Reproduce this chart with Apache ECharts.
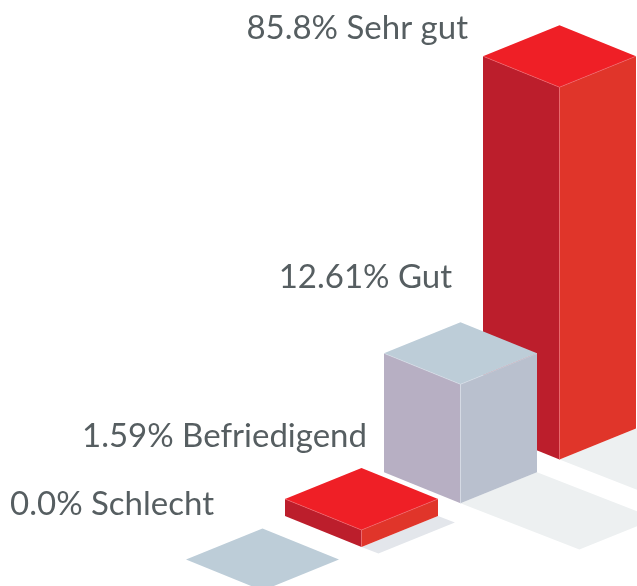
<!DOCTYPE html>
<html>
<head>
<meta charset="utf-8">
<style>
  html, body { margin: 0; padding: 0; background: #fff; }
  #chart { width: 637px; height: 586px; }
</style>
<script src="https://cdn.jsdelivr.net/npm/echarts@6/dist/echarts.min.js"></script>
</head>
<body>
<div id="chart"></div>
<script>
// data, back bar first so the nearer bars paint over it
var categories = ['Sehr gut', 'Gut', 'Befriedigend', 'Schlecht'];
var shareLabels = ['85.8', '12.61', '1.59', '0.0'];
// height of each bar as the graphic draws it (small bars are exaggerated in the original)
var drawnHeights = [85.8, 27.4, 3.9, 0];

// look of the blocks
var red = { top: '#ef1f26', left: '#bc1e2c', right: '#e0352a', seam: '#ee6a70' };
var grey = { top: '#bdcdd8', left: '#b7afc3', right: '#b9c0ce', seam: '#d8dde7' };
var palettes = [red, grey, red, grey];
var floorColors = ['#edf0f1', '#edf0f1', '#e3e6eb', '#edf0f1'];
var labelAnchors = [[468, 28], [452, 277], [367, 436], [214, 504]];

// isometric footprint, px
var halfW = 76.5;
var halfH = 31;
var rowDrop = 43.7;
var shadowSlope = 0.39;

function renderBlock(params, api) {
  var i = api.value(0);
  var base = api.coord([i, 0]);
  var top = api.coord([i, api.value(1)]);
  var h = base[1] - top[1];
  var drop = i * rowDrop;
  var cx = base[0];
  var by = base[1] + drop;
  var ty = top[1] + drop;
  var p = palettes[i];
  var kids = [];

  function poly(points, color) {
    kids.push({ type: 'polygon', shape: { points: points }, style: { fill: color } });
  }

  if (h > 0) {
    poly([
      [cx, by + halfH],
      [cx + halfW, by],
      [cx + halfW + h, by + h * shadowSlope],
      [cx + h, by + halfH + h * shadowSlope]
    ], floorColors[i]);
    poly([[cx - halfW, ty], [cx, ty + halfH], [cx, by + halfH], [cx - halfW, by]], p.left);
    poly([[cx, ty + halfH], [cx + halfW, ty], [cx + halfW, by], [cx, by + halfH]], p.right);
  }
  poly([[cx - halfW, ty], [cx, ty - halfH], [cx + halfW, ty], [cx, ty + halfH]], p.top);
  if (h > 0) {
    kids.push({
      type: 'polyline',
      shape: { points: [[cx - halfW, ty], [cx, ty + halfH], [cx + halfW, ty]] },
      style: { stroke: p.seam, lineWidth: 0.6, fill: null }
    });
    kids.push({
      type: 'line',
      shape: { x1: cx, y1: ty + halfH, x2: cx, y2: by + halfH },
      style: { stroke: p.seam, lineWidth: 0.8 }
    });
  }
  return { type: 'group', children: kids };
}

var chart = echarts.init(document.getElementById('chart'), null, { renderer: 'canvas' });
chart.setOption({
  animation: false,
  backgroundColor: '#fff',
  grid: { left: 213, width: 396, top: 38, height: 390.5 },
  xAxis: { type: 'category', data: categories, inverse: true, show: false },
  yAxis: { type: 'value', min: 0, max: 90, show: false },
  graphic: categories.map(function (name, i) {
    return {
      type: 'text',
      x: labelAnchors[i][0],
      y: labelAnchors[i][1],
      style: {
        text: shareLabels[i] + '% ' + name,
        align: 'right',
        verticalAlign: 'middle',
        fill: '#565e61',
        font: '33px Lato'
      }
    };
  }),
  series: [{
    type: 'custom',
    coordinateSystem: 'cartesian2d',
    renderItem: renderBlock,
    encode: { x: 0, y: 1 },
    data: categories.map(function (name, i) { return [i, drawnHeights[i]]; })
  }]
});
</script>
</body>
</html>
